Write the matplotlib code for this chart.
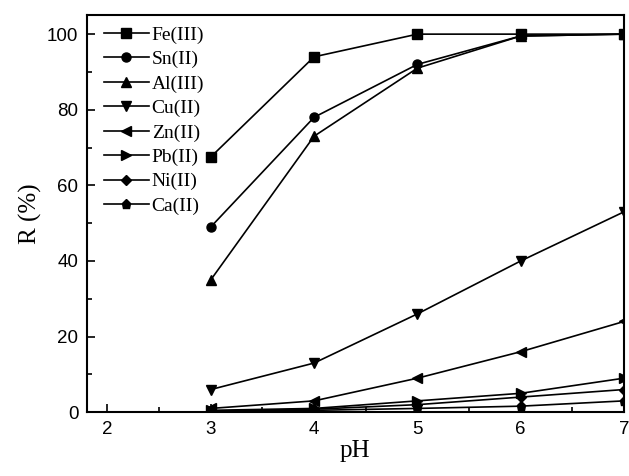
import numpy as np
import matplotlib
matplotlib.use("Agg")
import matplotlib.pyplot as plt
from matplotlib.ticker import MultipleLocator

ph = [3, 4, 5, 6, 7]
labels = ["Fe(III)", "Sn(II)", "Al(III)", "Cu(II)", "Zn(II)", "Pb(II)", "Ni(II)", "Ca(II)"]
fe = [67.5, 94, 100, 100, 100]
sn = [49, 78, 92, 99.5, 100]
al = [35, 73, 91, 99.5, 100]
cu = [6, 13, 26, 40, 53]
zn = [1, 3, 9, 16, 24]
pb = [0.5, 1, 3, 5, 9]
ni = [0.3, 0.8, 2, 4, 6]
ca = [0.2, 0.5, 1, 1.6, 3]
markers = ["s", "o", "^", "v", "<", ">", "D", "p"]

fig = plt.figure(figsize=(6.29, 4.76), dpi=100)
ax = fig.add_axes([0.138, 0.134, 0.854, 0.834])

for ys, lab, m in zip([fe, sn, al, cu, zn, pb, ni, ca], labels, markers):
    ms = 5 if m == "D" else 6.5
    ax.plot(ph, ys, color="black", marker=m, markersize=ms, linewidth=1.2, label=lab)

ax.set_xlim(1.8, 7)
ax.set_ylim(0, 105)
ax.xaxis.set_major_locator(MultipleLocator(1))
ax.xaxis.set_minor_locator(MultipleLocator(0.5))
ax.yaxis.set_major_locator(MultipleLocator(20))
ax.yaxis.set_minor_locator(MultipleLocator(10))
ax.tick_params(which="both", direction="in", top=False, right=False, width=1.2)
ax.tick_params(which="major", length=6, labelsize=13.5, pad=6)
ax.tick_params(which="minor", length=3.5)
for lbl in ax.get_xticklabels() + ax.get_yticklabels():
    lbl.set_family("Liberation Sans")
for s in ax.spines.values():
    s.set_linewidth(1.5)

ax.set_xlabel("pH", family="Liberation Serif", fontsize=18, labelpad=2)
ax.set_ylabel("R (%)", family="Liberation Serif", fontsize=18, labelpad=4)

leg = ax.legend(loc="upper left", frameon=False, prop={"family": "Liberation Serif", "size": 14},
                handlelength=2.3, labelspacing=0.35, handletextpad=0.15,
                borderaxespad=0.15, bbox_to_anchor=(0.012, 1.0))

fig.savefig("out.png", dpi=100)
